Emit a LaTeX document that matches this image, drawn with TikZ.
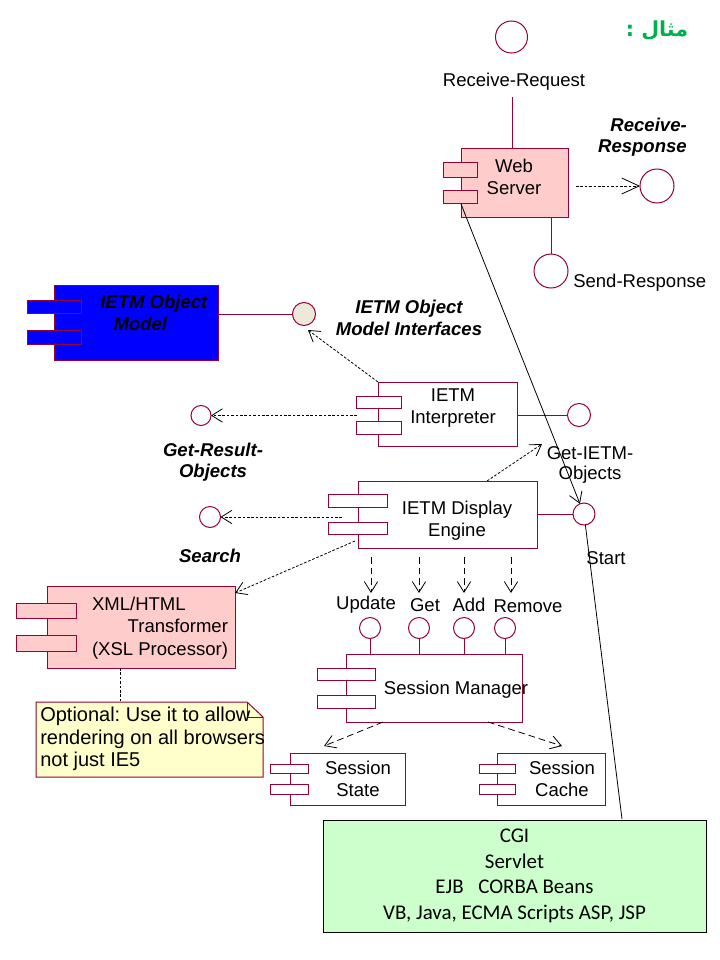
\documentclass[tikz,border=0pt]{standalone}
\usepackage{fontspec}
\setmainfont{Liberation Sans}
\newfontfamily\greenboxfont{Carlito}
\newfontfamily\arabicfont[Script=Arabic]{DejaVu Sans}
\TeXXeTstate=1
\frenchspacing
\usetikzlibrary{arrows.meta}
\definecolor{bord}{RGB}{153,0,51}
\definecolor{pinkf}{RGB}{255,204,204}
\definecolor{bluef}{RGB}{0,0,255}
\definecolor{notef}{RGB}{255,255,204}
\definecolor{greenf}{RGB}{204,255,204}
\definecolor{ifacef}{RGB}{236,233,216}
\definecolor{titlegreen}{RGB}{0,176,80}
\begin{document}
\begin{tikzpicture}[x=0.75pt,y=-0.75pt,
  comp/.style={draw=bord, line width=0.75pt, inner sep=0pt, outer sep=0pt, rectangle},
  sz/.style 2 args={minimum width=#1*0.75pt, minimum height=#2*0.75pt},
  port/.style={draw=bord, line width=0.75pt},
  iface/.style={circle, draw=bord, line width=0.75pt, fill=white, inner sep=0pt, outer sep=0pt, minimum size=#1*1.5pt},
  ifl/.style={draw=bord, line width=0.75pt},
  txt/.style={inner sep=0pt, align=center, font=\fontsize{13.9pt}{16.5pt}\selectfont},
  btxt/.style={inner sep=0pt, align=center, font=\fontsize{13.9pt}{16pt}\selectfont\bfseries\itshape},
  dep/.style={draw, line width=0.6pt, dash pattern=on 2pt off 1.3pt, -{Straight Barb[length=8pt,width=10pt,line width=0.6pt]}},
  ldep/.style={draw, line width=0.6pt, dash pattern=on 5pt off 3pt, -{Straight Barb[length=8pt,width=10pt,line width=0.6pt]}},
  link/.style={draw, line width=0.6pt}
]
\useasboundingbox (0,0) rectangle (720,960);

% title
\node[inner sep=0pt, text=titlegreen, font=\fontsize{15.5pt}{17pt}\arabicfont\bfseries] (title) at (657,31) {\beginR مثال :\endR};

% ---------- Web Server ----------
\node[comp, fill=pinkf, sz={107}{69}] (ws) at (514.5,182.5) {};
\draw[port, fill=pinkf] (443,162) rectangle (477,177);
\draw[port, fill=pinkf] (443,190) rectangle (477,203);
\node[txt] (wst) at (514,177) {Web\\Server};

\node[iface=16] (rr) at (511.5,37) {};
\node[txt] (rrl) at (514,82) {Receive-Request};
\coordinate (rrt) at (512,97);
\draw[ifl] (rrt) -- (rrt |- ws.north);

\node[iface=17] (rsp) at (657,186) {};
\node[btxt, align=right, anchor=east] (rspl) at (687,137) {Receive-\\Response};
\coordinate (wsr) at (576,186);
\draw[dep, -{Straight Barb[length=13pt,width=12pt,line width=0.6pt]}] (wsr) -- (rsp);

\node[iface=17] (sr) at (551,271) {};
\node[txt, anchor=west] (srl) at (573,283) {Send-Response};
\draw[ifl] (sr.north) -- (sr.north |- ws.south);

% ---------- IETM Object Model ----------
\node[comp, fill=bluef, sz={164}{75}] (om) at (136,322.5) {};
\draw[port, fill=bluef] (27,300) rectangle (81,313);
\draw[port, fill=bluef] (27,330) rectangle (81,344);
\node[btxt, align=left, anchor=west] (omt) at (100,313) {IETM Object\\\hspace*{10pt}Model};

\node[iface=11.5, fill=ifacef] (omi) at (304,314) {};
\draw[ifl] (omi.west) -- (omi.west -| om.east);
\node[btxt] (omil) at (409,318) {IETM Object\\Model Interfaces};

% ---------- IETM Interpreter ----------
\node[comp, fill=white, sz={139}{64}] (ip) at (447.5,414) {};
\draw[port, fill=white] (356,396) rectangle (401,408);
\draw[port, fill=white] (356,421) rectangle (401,434);
\node[txt] (ipt) at (453,408) {IETM\\Interpreter};

\coordinate (omiend) at (308,330);
\draw[dep] (ip.north west) -- (omiend);

\node[iface=10] (gro) at (201,415.5) {};
\node[btxt] (grol) at (213,462) {Get-Result-\\Objects};
\coordinate (ipl) at (357,415.5);
\draw[dep] (ipl) -- (gro);

\node[iface=11.5] (gio) at (579,415) {};
\draw[ifl] (ip.east |- gio) -- (gio.west);
\node[txt, font=\fontsize{13.9pt}{14.5pt}\selectfont] (giol) at (590,465) {Get-IETM-\\Objects};

% ---------- IETM Display Engine ----------
\node[comp, fill=white, sz={179}{67}] (de) at (447.5,514.5) {};
\draw[port, fill=white] (328,494) rectangle (387,507);
\draw[port, fill=white] (328,522) rectangle (387,534);
\node[txt] (det) at (457,521) {IETM Display\\Engine};

\coordinate (detop) at (487,481);
\coordinate (gioend) at (542,444);
\draw[dep] (detop) -- (gioend);

\node[iface=10.5] (dl) at (210,517) {};
\coordinate (del) at (342,517);
\draw[dep] (del) -- (dl);
\node[btxt] (searchl) at (210,556) {Search};

\node[iface=11] (st) at (584,514) {};
\draw[ifl] (de.east |- st) -- (st.west);
\node[txt] (stl) at (606,558) {Start};

% ---------- XML/HTML Transformer ----------
\node[comp, fill=pinkf, sz={188}{82}] (xt) at (141,627) {};
\draw[port, fill=pinkf] (16,603) rectangle (76,618);
\draw[port, fill=pinkf] (16,635) rectangle (76,651);
\node[txt, align=right, font=\fontsize{13.9pt}{16.8pt}\selectfont] (xtt) at (160,628) {\rlap{XML/HTML}\phantom{(XSL Processor)}\\Transformer\\(XSL Processor)};

\coordinate (desw) at (355,541);
\coordinate (xtne) at (235,593);
\draw[dep] (desw) -- (xtne);

% ---------- Note ----------
\draw[draw=bord, line width=0.75pt, fill=notef] (36,702) -- (247,702) -- (263,717) -- (263,777) -- (36,777) -- cycle;
\draw[draw=bord, line width=0.75pt] (247,702) -- (247,717) -- (263,717);
\node[txt, align=left, anchor=west, font=\fontsize{15pt}{17pt}\selectfont] (notet) at (40,739) {Optional: Use it to allow\\rendering on all browsers\\not just IE5};
\coordinate (notetop) at (120,702);
\draw[link, dash pattern=on 2pt off 1.3pt] (xt.south -| notetop) -- (notetop);

% ---------- Session Manager ----------
\node[comp, fill=white, sz={176}{68}] (sm) at (434,688) {};
\draw[port, fill=white] (317,668) rectangle (375,680);
\draw[port, fill=white] (317,695) rectangle (375,708);
\node[txt] (smt) at (456,690) {Session Manager};

\node[iface=10.5] (up) at (370,628) {};
\node[iface=10.5] (get) at (419,628) {};
\node[iface=10.5] (add) at (464,628) {};
\node[iface=10.5] (rem) at (505,628) {};
\foreach \n in {up,get,add,rem} {\draw[ifl] (\n.south) -- (\n.south |- sm.north);}
\node[txt] (upl) at (366,605) {Update};
\node[txt] (getl) at (425,605) {Get};
\node[txt] (addl) at (469,605) {Add};
\node[txt] (reml) at (528,606) {Remove};

\foreach \x [count=\i] in {371,419,464,511} {
  \coordinate (da\i) at (\x,557);
  \coordinate (db\i) at (\x,593);
  \draw[ldep] (da\i) -- (db\i);
}

% ---------- Session State / Cache ----------
\node[comp, fill=white, sz={115}{52}] (ss) at (347.5,779) {};
\draw[port, fill=white] (270,764) rectangle (308,773);
\draw[port, fill=white] (270,784) rectangle (308,794);
\node[txt] (sst) at (358,779) {Session\\State};

\node[comp, fill=white, sz={108}{52}] (sc) at (551,779) {};
\draw[port, fill=white] (479,764) rectangle (515,773);
\draw[port, fill=white] (479,784) rectangle (515,794);
\node[txt] (sct) at (562,779) {Session\\Cache};

\coordinate (sm1) at (383,722);
\coordinate (ssend) at (324,746);
\coordinate (sm2) at (488,722);
\coordinate (scend) at (562,746);
\draw[ldep] (sm1) -- (ssend);
\draw[ldep] (sm2) -- (scend);

% ---------- Green box ----------
\node[draw=black, line width=0.75pt, fill=greenf, inner sep=0pt, sz={383}{112}, align=center,
      font=\fontsize{15.7pt}{19.3pt}\greenboxfont] (gb) at (514.5,876)
      {CGI\\Servlet\\EJB\hspace{11pt}CORBA Beans\\VB, Java, ECMA Scripts ASP, JSP};

% ---------- long line ----------
\coordinate (wsp) at (461,204);
\coordinate (gtop) at (622,819);
\draw[link, -{Straight Barb[length=8pt,width=10pt,line width=0.6pt]}] (wsp) -- (st);
\draw[link] (st) -- (gtop);
\end{tikzpicture}
\end{document}
